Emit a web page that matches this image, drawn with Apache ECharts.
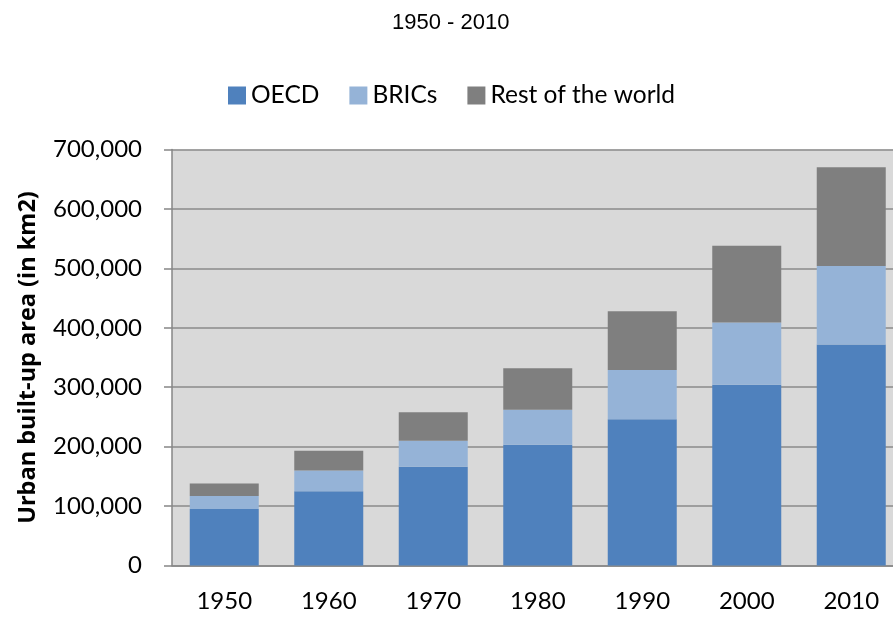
<!DOCTYPE html>
<html>
<head>
<meta charset="utf-8">
<script src="https://cdn.jsdelivr.net/npm/echarts@6/dist/echarts.min.js"></script>
<style>
  html, body { margin: 0; padding: 0; background: #fff; }
  #chart { width: 893px; height: 617px; }
</style>
</head>
<body>
<div id="chart"></div>
<script>
// data
const years = ["1950", "1960", "1970", "1980", "1990", "2000", "2010"];
const oecd = [95000, 125000, 166000, 203000, 246000, 304000, 372000];
const brics = [22000, 35000, 44000, 59000, 83000, 105000, 132000];
const rest = [21000, 33000, 48000, 70000, 99000, 129000, 166000];
const yTicks = [0, 100000, 200000, 300000, 400000, 500000, 600000, 700000];

const font = "Lato";

const chart = echarts.init(document.getElementById("chart"));

const option = {
    animation: false,
    title: {
        text: "1950 - 2010",
        left: 392,
        top: 12,
        padding: 0,
        textStyle: {
            fontFamily: "Liberation Sans",
            fontSize: 22,
            fontWeight: "normal",
            color: "#000"
        }
    },
    legend: {
        left: 228,
        top: 83,
        padding: 0,
        icon: "rect",
        itemWidth: 18,
        itemHeight: 18,
        itemGap: 30,
        textStyle: {
            fontFamily: font,
            fontSize: 24.5,
            color: "#000"
        },
        data: ["OECD", "BRICs", "Rest of the world"]
    },
    grid: {
        left: 172,
        top: 149.5,
        bottom: 51.5,
        width: 731.5,
        containLabel: false,
        outerBoundsMode: "none"
    },
    xAxis: {
        type: "category",
        data: years,
        axisLine: { lineStyle: { color: "#868686", width: 1.5 } },
        axisTick: { length: 9, lineStyle: { color: "#868686", width: 1.5 } },
        axisLabel: {
            fontFamily: font,
            fontSize: 24,
            color: "#000",
            margin: 24
        }
    },
    yAxis: {
        type: "value",
        min: yTicks[0],
        max: yTicks[yTicks.length - 1],
        interval: yTicks[1] - yTicks[0],
        name: "Urban built-up area (in km2)",
        nameLocation: "middle",
        nameRotate: 90,
        nameGap: 132,
        nameTextStyle: {
            fontFamily: "Open Sans",
            fontSize: 23.5,
            fontWeight: "bold",
            color: "#000"
        },
        axisLine: { show: true, lineStyle: { color: "#868686", width: 1.5 } },
        axisTick: { show: true, length: 8, lineStyle: { color: "#868686", width: 1.5 } },
        splitLine: { lineStyle: { color: "#8a8a8a", width: 1.5 } },
        axisLabel: {
            fontFamily: font,
            fontSize: 24,
            color: "#000",
            margin: 30,
            formatter: v => v.toLocaleString("en-US")
        }
    },
    series: [
        {
            name: "OECD",
            type: "bar",
            stack: "total",
            barWidth: 69,
            data: oecd,
            itemStyle: { color: "#4f81bd" }
        },
        {
            name: "BRICs",
            type: "bar",
            stack: "total",
            barWidth: 69,
            data: brics,
            itemStyle: { color: "#95b3d7" }
        },
        {
            name: "Rest of the world",
            type: "bar",
            stack: "total",
            barWidth: 69,
            data: rest,
            itemStyle: { color: "#7f7f7f" }
        }
    ]
};

chart.setOption(option);

// grey plot background behind the grid
const rect = chart.getModel().getComponent("grid").coordinateSystem.getRect();
chart.setOption({
    graphic: [{
        type: "rect",
        z: -10,
        silent: true,
        shape: { x: rect.x, y: rect.y, width: rect.width, height: rect.height },
        style: { fill: "#d9d9d9" }
    }]
});
</script>
</body>
</html>
